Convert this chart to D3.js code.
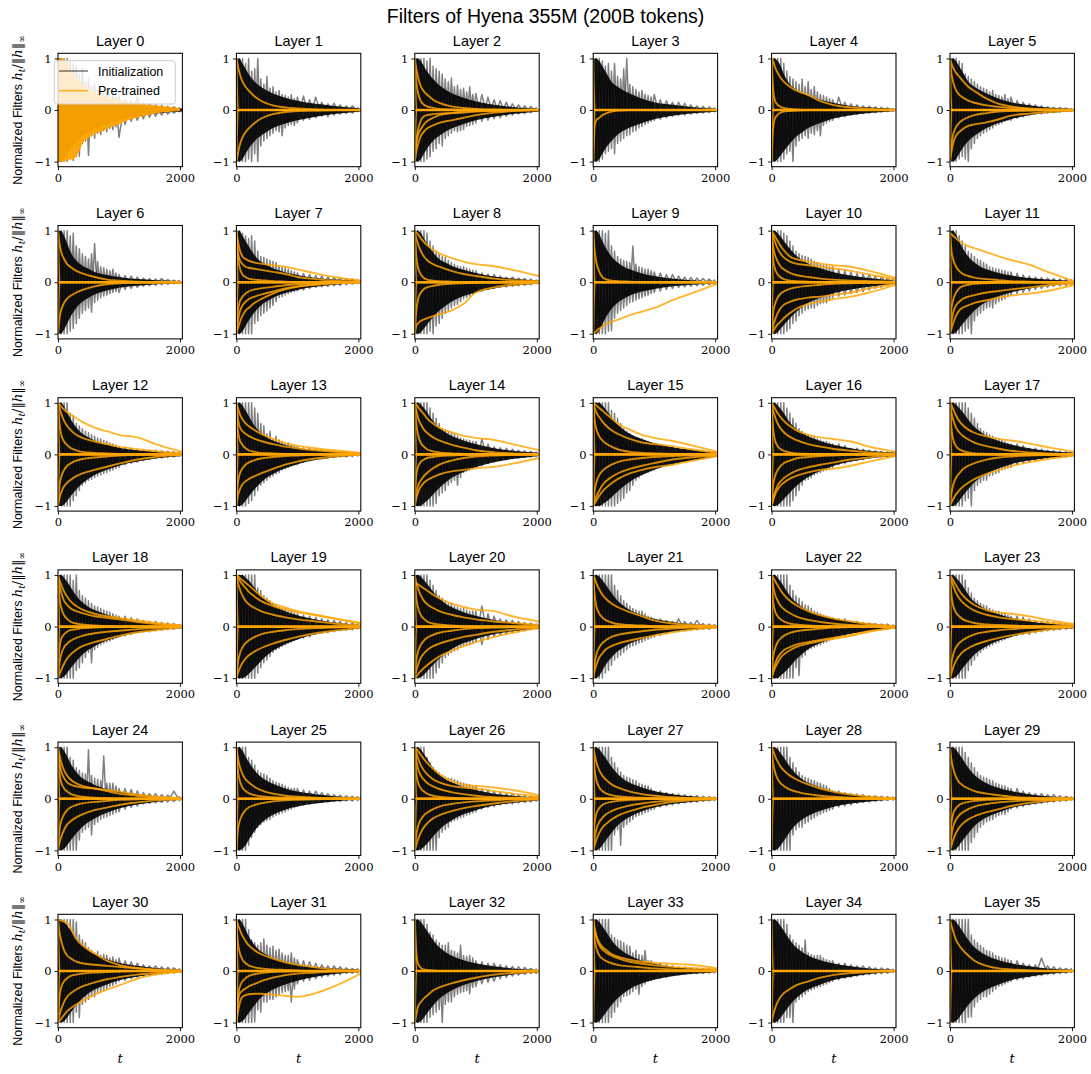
<!DOCTYPE html>
<html><head><meta charset="utf-8">
<script src="https://cdn.jsdelivr.net/npm/d3@7/dist/d3.min.js"></script>
<style>body{margin:0;background:#fff}svg{display:block}</style>
</head><body>
<svg id="chart" width="1091" height="1074"></svg>
<script>
const chartTitle = "Filters of Hyena 355M (200B tokens)";
const layerNames = d3.range(36).map(i => "Layer " + i);
const xTicks = [0, 2000];
const yTicks = [-1, 0, 1];
const legendLabels = ["Initialization", "Pre-trained"];

const T_BLACK = [0,50,100,150,200,250,300,350,400,450,500,550,600,650,700,750,800,850,900,950,1000,1100,1200,1300,1400,1500,1600,1700,1800,1900,2000];
const T_CORE = [0,50,100,150,200,300,400,500,600,800,1000,1300,1600,2040];
const T_ORANGE = [0,25,50,100,150,200,300,400,600,800,1000,1300,1600,2040];

// outer (spiky) envelope of the initialization filters, sampled at T_BLACK
const blackUpper = [
[1,1,1,1,.95,.9,.85,.7,.8,.55,.6,.45,.5,.38,.42,.33,.35,.28,.3,.25,.27,.2,.18,.25,.14,.12,.1,.09,.07,.06,.05],
[1,1,1,.9,1,.75,.8,1,.6,.5,.65,.42,.45,.35,.38,.3,.28,.25,.3,.22,.25,.27,.2,.25,.15,.12,.13,.1,.08,.08,.05],
[1,1,1,1,.95,1,.85,.8,.75,.7,.6,.55,.62,.45,.48,.4,.42,.35,.45,.3,.32,.3,.25,.2,.18,.15,.12,.1,.08,.07,.05],
[1,1,1,.95,.85,.9,.75,.9,.65,.6,.8,1,.5,.45,.4,.35,.38,.3,.28,.25,.3,.2,.18,.15,.15,.13,.1,.08,.07,.06,.05],
[1,1,1,1,.9,.75,.65,.6,.55,.5,.6,.45,.55,.4,.45,.35,.3,.28,.25,.22,.2,.25,.15,.12,.1,.08,.07,.06,.05,.04,.03],
[1,1,1,.95,.9,.7,.65,.6,.55,.5,.45,.42,.4,.35,.38,.3,.28,.25,.3,.22,.25,.18,.15,.12,.1,.08,.06,.05,.05,.04,.03],
[1,1,1,1,.9,.95,.7,.65,.55,.5,.45,.55,.75,.4,.3,.28,.25,.22,.25,.18,.15,.13,.12,.1,.08,.07,.06,.07,.05,.04,.04],
[1,1,.95,.9,.85,.9,.8,.6,.5,.48,.45,.42,.4,.38,.32,.3,.28,.25,.22,.2,.18,.17,.15,.13,.12,.1,.09,.08,.07,.06,.05],
[1,1,1,1,.95,.8,.7,.6,.55,.5,.48,.42,.38,.35,.32,.3,.3,.27,.25,.23,.22,.18,.16,.15,.12,.1,.1,.08,.07,.06,.05],
[1,1,1,1,.95,1,.7,.6,.5,.45,.42,.4,.38,.7,.35,.3,.28,.25,.25,.22,.2,.18,.15,.15,.12,.1,.09,.08,.07,.06,.05],
[1,1,1,1,.95,.9,.8,.7,.6,.55,.52,.5,.48,.45,.4,.38,.35,.33,.32,.3,.3,.25,.22,.2,.17,.15,.15,.12,.1,.08,.07],
[1,1,1,.9,.8,.7,.6,.55,.5,.45,.42,.38,.35,.3,.28,.26,.25,.23,.22,.2,.2,.17,.14,.12,.1,.09,.08,.07,.06,.05,.05],
[1,1,1,1,.8,.75,.6,.55,.5,.45,.42,.38,.35,.32,.3,.27,.25,.22,.2,.18,.15,.14,.12,.1,.09,.08,.08,.07,.06,.05,.05],
[1,1,1,1,1,1,.9,.8,.6,.55,.4,.45,.3,.35,.28,.25,.2,.22,.18,.16,.15,.13,.12,.1,.08,.07,.06,.05,.05,.04,.04],
[1,1,1,1,1,.9,.8,.7,.6,.5,.48,.45,.42,.4,.35,.32,.3,.28,.27,.25,.25,.3,.2,.15,.13,.12,.1,.08,.07,.06,.05],
[1,1,1,1,1,1,.85,.8,.7,.6,.5,.45,.4,.35,.33,.3,.3,.27,.25,.22,.2,.18,.16,.15,.12,.1,.1,.08,.07,.06,.05],
[1,1,1,1,1,.9,.8,.7,.6,.5,.45,.4,.38,.35,.35,.3,.28,.25,.25,.22,.2,.2,.17,.12,.12,.1,.08,.07,.06,.05,.05],
[1,1,1,1,1,1,.9,.8,.7,.6,.5,.45,.42,.38,.35,.32,.3,.28,.25,.22,.2,.2,.17,.12,.12,.1,.08,.07,.06,.05,.05],
[1,1,1,1,1,.9,1,.7,.6,.55,.5,.45,.4,.38,.35,.32,.3,.28,.25,.22,.2,.2,.17,.15,.12,.1,.1,.08,.07,.06,.05],
[1,1,1,1,1,1,1,.75,.7,.6,.55,.5,.45,.42,.38,.35,.35,.3,.3,.27,.25,.22,.2,.18,.15,.13,.12,.1,.08,.07,.06],
[1,1,1,1,1,.9,.8,.7,.6,.55,.5,.45,.45,.4,.38,.35,.35,.32,.3,.3,.3,.4,.25,.2,.15,.13,.12,.1,.08,.07,.06],
[1,1,1,1,1,1,1,.8,.7,.6,.5,.45,.4,.35,.32,.3,.3,.25,.2,.18,.15,.15,.12,.1,.15,.1,.08,.12,.06,.05,.05],
[1,1,1,1,1,1,.8,.7,.6,.55,.48,.42,.4,.35,.3,.28,.25,.22,.2,.18,.17,.15,.15,.1,.1,.08,.07,.06,.05,.05,.04],
[1,1,1,1,1,.9,.75,.65,.55,.5,.45,.42,.4,.35,.32,.3,.3,.27,.25,.22,.2,.2,.18,.15,.12,.1,.1,.08,.07,.06,.05],
[1,1,1,1,.8,.75,.6,.55,.5,.48,.95,.45,.4,.38,.35,.83,.3,.3,.3,.25,.2,.2,.18,.15,.12,.1,.1,.08,.07,.15,.05],
[1,1,1,1,.8,.75,.65,.55,.5,.48,.45,.4,.35,.32,.3,.28,.25,.22,.2,.2,.2,.17,.15,.15,.12,.1,.08,.07,.06,.05,.05],
[1,1,1,1,.8,.7,.6,.55,.5,.45,.42,.4,.4,.37,.35,.32,.3,.28,.27,.25,.25,.2,.17,.15,.12,.1,.1,.08,.07,.06,.05],
[1,1,1,1,1,1,.8,.7,.6,.52,.45,.42,.4,.37,.35,.3,.28,.26,.25,.2,.15,.15,.12,.1,.09,.08,.06,.06,.05,.04,.04],
[1,1,1,1,1,1,.8,.7,.6,.52,.45,.42,.4,.37,.35,.32,.3,.27,.25,.2,.15,.15,.12,.1,.09,.08,.06,.06,.05,.04,.04],
[1,1,1,1,1,.9,.8,.7,.6,.52,.45,.42,.4,.37,.35,.3,.28,.26,.25,.22,.2,.2,.15,.12,.1,.1,.08,.08,.06,.05,.04],
[1,1,1,1,1,1,.95,.7,.6,.55,.45,.4,.35,.38,.3,.32,.3,.25,.27,.22,.25,.2,.18,.15,.12,.1,.1,.08,.07,.06,.05],
[1,1,1,1,.8,.6,.55,.5,.55,.62,.5,.45,.48,.4,.42,.35,.3,.3,.35,.25,.22,.2,.18,.15,.12,.1,.1,.08,.06,.05,.05],
[1,1,1,1,.9,.75,.7,.6,.55,.5,.5,.55,.4,.38,.35,.5,.3,.28,.3,.25,.2,.18,.15,.15,.12,.1,.09,.08,.07,.05,.04],
[1,1,1,1,1,1,.7,.65,.6,.58,.55,.5,.48,.35,.4,.32,.3,.4,.2,.2,.15,.15,.12,.1,.08,.07,.06,.05,.05,.04,.04],
[1,1,1,1,1,.9,.7,.6,.55,.5,.45,.6,.35,.32,.3,.3,.3,.25,.22,.2,.2,.15,.15,.12,.1,.1,.08,.06,.06,.05,.04],
[1,1,1,1,1,1,1,.7,.6,.55,.5,.45,.4,.38,.35,.3,.28,.25,.25,.22,.2,.2,.15,.12,.12,.25,.1,.08,.06,.05,.05]
];
const blackLower = [
[-1,-1,-1,-1,-.95,-.98,-.9,-.9,-.65,-.6,-.88,-.5,-.55,-.45,-.48,-.4,-.42,-.36,-.38,-.33,-.53,-.28,-.22,-.2,-.17,-.14,-.12,-.1,-.08,-.06,-.04],
[-1,-1,-1,-1,-.95,-1,-.85,-1,-.7,-.6,-.55,-.5,-.45,-.4,-.42,-.5,-.35,-.3,-.28,-.3,-.25,-.2,-.18,-.15,-.12,-.13,-.1,-.08,-.07,-.06,-.04],
[-1,-1,-1,-1,-.95,-.9,-.8,-.75,-.65,-.7,-.55,-.5,-.45,-.4,-.42,-.4,-.38,-.32,-.3,-.28,-.25,-.22,-.2,-.17,-.15,-.12,-.1,-.08,-.07,-.05,-.04],
[-1,-1,-1,-.95,-.85,-.8,-.75,-.85,-.65,-.6,-.55,-.5,-.48,-.42,-.4,-.35,-.32,-.28,-.25,-.22,-.2,-.18,-.15,-.12,-.1,-.1,-.08,-.07,-.06,-.05,-.04],
[-1,-1,-1,-1,-.95,-.85,-.8,-1,-.7,-.6,-.55,-.5,-.55,-.45,-.48,-.4,-.5,-.3,-.25,-.22,-.2,-.15,-.13,-.1,-.08,-.07,-.06,-.05,-.04,-.03,-.03],
[-1,-1,-1,-.95,-.9,-.95,-1,-.75,-.65,-.55,-.5,-.45,-.42,-.38,-.35,-.3,-.28,-.25,-.22,-.2,-.2,-.16,-.13,-.1,-.08,-.07,-.06,-.05,-.04,-.03,-.03],
[-1,-1,-1,-1,-.95,-.9,-.8,-.7,-.6,-.55,-.5,-.58,-.4,-.35,-.3,-.27,-.25,-.22,-.2,-.18,-.2,-.14,-.12,-.1,-.08,-.07,-.06,-.05,-.04,-.03,-.03],
[-1,-1,-1,-1,-1,-1,-.8,-.75,-.65,-.6,-.56,-.5,-.45,-.38,-.3,-.28,-.25,-.22,-.2,-.18,-.17,-.15,-.12,-.1,-.09,-.08,-.07,-.06,-.05,-.04,-.03],
[-1,-1,-1,-1,-1,-.95,-1,-.85,-.8,-.7,-.6,-.55,-.5,-.45,-.43,-.38,-.32,-.3,-.27,-.23,-.2,-.17,-.14,-.12,-.1,-.09,-.08,-.07,-.06,-.05,-.04],
[-1,-1,-1,-1,-1,-.95,-.94,-.7,-.6,-.55,-.5,-.45,-.4,-.38,-.35,-.32,-.3,-.27,-.25,-.22,-.2,-.17,-.14,-.12,-.1,-.09,-.08,-.07,-.06,-.05,-.04],
[-1,-1,-1,-1,-1,-.95,-.9,-.8,-.75,-.65,-.6,-.55,-.52,-.5,-.5,-.45,-.42,-.4,-.4,-.35,-.3,-.27,-.25,-.22,-.2,-.18,-.15,-.12,-.1,-.07,-.05],
[-1,-1,-1,-1,-1,-.95,-.9,-1,-.75,-.65,-.6,-.55,-.5,-.48,-.5,-.42,-.38,-.35,-.32,-.28,-.25,-.22,-.2,-.17,-.14,-.12,-.1,-.08,-.07,-.06,-.05],
[-1,-1,-1,-1,-1,-.9,-.8,-.7,-.6,-.55,-.5,-.48,-.45,-.42,-.4,-.37,-.35,-.32,-.3,-.27,-.25,-.2,-.17,-.15,-.12,-.1,-.08,-.07,-.06,-.05,-.04],
[-1,-1,-1,-1,-.95,-.9,-.8,-.7,-.6,-.55,-.5,-.45,-.42,-.38,-.35,-.3,-.28,-.25,-.22,-.2,-.2,-.15,-.12,-.1,-.08,-.07,-.06,-.05,-.05,-.04,-.04],
[-1,-1,-1,-1,-1,-1,-1,-.95,-.8,-.75,-.7,-.6,-.55,-.5,-.6,-.45,-.35,-.32,-.3,-.27,-.25,-.22,-.18,-.15,-.12,-.1,-.08,-.07,-.06,-.05,-.04],
[-1,-1,-1,-1,-1,-1,-1,-1,-.95,-.9,-.85,-.75,-.7,-.6,-.5,-.45,-.4,-.37,-.35,-.32,-.3,-.25,-.22,-.2,-.16,-.14,-.1,-.09,-.08,-.06,-.05],
[-1,-1,-1,-1,-1,-1,-1,-.9,-.8,-.7,-.6,-.5,-.48,-.45,-.4,-.37,-.35,-.32,-.3,-.27,-.25,-.2,-.18,-.14,-.12,-.1,-.08,-.06,-.05,-.04,-.04],
[-1,-1,-1,-1,-1,-.9,-.85,-1,-.7,-.6,-.55,-.5,-.5,-.42,-.4,-.37,-.35,-.3,-.28,-.26,-.25,-.2,-.17,-.15,-.12,-.1,-.08,-.07,-.06,-.05,-.04],
[-1,-1,-1,-1,-1,-1,-.85,-.8,-.7,-.6,-.5,-.7,-.45,-.4,-.35,-.32,-.3,-.28,-.25,-.22,-.2,-.18,-.15,-.12,-.1,-.1,-.08,-.07,-.06,-.05,-.04],
[-1,-1,-1,-1,-1,-1,-1,-.9,-.8,-.7,-.65,-.58,-.5,-.45,-.42,-.38,-.35,-.32,-.3,-.27,-.25,-.22,-.2,-.15,-.13,-.12,-.1,-.08,-.07,-.06,-.05],
[-1,-1,-1,-1,-1,-1,-1,-.9,-.8,-.7,-.6,-.55,-.5,-.47,-.45,-.4,-.37,-.35,-.35,-.32,-.3,-.35,-.25,-.2,-.17,-.15,-.12,-.1,-.08,-.06,-.05],
[-1,-1,-1,-1,-.9,-.85,-.75,-.65,-.6,-.55,-.5,-.45,-.4,-.37,-.35,-.32,-.3,-.27,-.25,-.22,-.2,-.17,-.14,-.1,-.09,-.08,-.07,-.06,-.05,-.05,-.04],
[-1,-1,-1,-1,-1,-1,-1,-1,-.8,-.95,-.6,-.55,-.45,-.42,-.4,-.37,-.35,-.32,-.3,-.27,-.25,-.2,-.17,-.15,-.12,-.1,-.08,-.07,-.06,-.05,-.04],
[-1,-1,-1,-1,-1,-1,-.85,-.75,-.65,-.57,-.5,-.45,-.42,-.38,-.35,-.32,-.3,-.27,-.25,-.22,-.2,-.17,-.15,-.15,-.12,-.1,-.08,-.07,-.06,-.05,-.04],
[-1,-1,-1,-1,-1,-1,-1,-.8,-.65,-.6,-.55,-.7,-.5,-.45,-.4,-.37,-.35,-.32,-.3,-.27,-.25,-.2,-.17,-.14,-.1,-.09,-.08,-.07,-.06,-.05,-.05],
[-1,-1,-1,-1,-.9,-.75,-.65,-.55,-.5,-.45,-.42,-.4,-.35,-.32,-.3,-.27,-.25,-.22,-.2,-.17,-.15,-.12,-.1,-.08,-.07,-.06,-.05,-.05,-.04,-.04,-.04],
[-1,-1,-1,-1,-1,-1,-1,-1,-.75,-.65,-.6,-.55,-.45,-.42,-.4,-.37,-.35,-.32,-.3,-.27,-.25,-.2,-.17,-.15,-.12,-.1,-.1,-.08,-.07,-.06,-.05],
[-1,-1,-1,-1,-1,-1,-1,-.7,-.6,-.9,-.55,-.5,-.45,-.4,-.35,-.32,-.3,-.27,-.25,-.22,-.2,-.16,-.14,-.12,-.1,-.08,-.07,-.06,-.05,-.04,-.04],
[-1,-1,-1,-1,-1,-1,-1,-.7,-.6,-.55,-.55,-.48,-.45,-.4,-.37,-.33,-.3,-.27,-.25,-.22,-.2,-.16,-.14,-.12,-.09,-.07,-.06,-.05,-.04,-.03,-.03],
[-1,-1,-1,-1,-1,-1,-1,-.85,-.75,-.65,-.55,-.5,-.45,-.42,-.4,-.35,-.32,-.3,-.3,-.25,-.2,-.18,-.15,-.12,-.1,-.09,-.07,-.06,-.05,-.04,-.03],
[-1,-1,-1,-1,-1,-1,-.8,-.9,-.65,-.6,-.55,-.5,-.5,-.42,-.4,-.37,-.35,-.3,-.28,-.25,-.2,-.18,-.15,-.12,-.1,-.09,-.07,-.06,-.05,-.04,-.03],
[-1,-1,-1,-1,-1,-1,-.99,-.75,-.8,-.6,-.6,-.55,-.55,-.5,-.45,-.42,-.4,-.38,-.6,-.35,-.25,-.2,-.18,-.15,-.12,-.1,-.08,-.07,-.05,-.04,-.04],
[-1,-1,-1,-1,-1,-.9,-.85,-.8,-.75,-1,-.65,-.6,-.6,-.5,-.45,-.42,-.4,-.38,-.44,-.32,-.3,-.25,-.22,-.2,-.15,-.12,-.1,-.08,-.06,-.05,-.05],
[-1,-1,-1,-1,-1,-1,-.9,-.8,-.7,-.6,-.5,-.48,-.45,-.4,-.35,-.45,-.3,-.25,-.2,-.18,-.15,-.14,-.12,-.08,-.07,-.06,-.05,-.05,-.05,-.04,-.04],
[-1,-1,-1,-1,-1,-.9,-.9,-1,-.6,-.55,-.5,-.45,-.4,-.37,-.35,-.32,-.3,-.27,-.25,-.22,-.2,-.17,-.14,-.12,-.1,-.08,-.07,-.06,-.05,-.04,-.03],
[-1,-1,-1,-1,-1,-1,-.9,-.89,-.7,-.6,-.55,-.5,-.5,-.45,-.4,-.35,-.3,-.28,-.25,-.22,-.2,-.17,-.15,-.12,-.1,-.09,-.07,-.06,-.05,-.04,-.03]
];
// dense core of the initialization filters, sampled at T_CORE
const coreUpper = [
[1,1,.95,.8,.65,.45,.35,.3,.25,.2,.15,.1,.07,.03],
[1,1,.9,.8,.7,.55,.45,.38,.32,.24,.18,.12,.08,.03],
[1,1,.95,.85,.75,.6,.48,.4,.33,.24,.17,.1,.06,.02],
[1,1,.95,.85,.75,.55,.45,.38,.32,.22,.15,.1,.06,.02],
[1,1,.95,.85,.7,.5,.4,.33,.28,.2,.14,.08,.05,.02],
[1,1,.95,.85,.75,.55,.45,.38,.32,.22,.15,.09,.05,.02],
[1,1,.9,.75,.6,.42,.32,.26,.2,.14,.1,.06,.04,.02],
[1,1,.9,.8,.7,.52,.4,.33,.27,.19,.14,.08,.05,.02],
[1,1,.95,.85,.75,.58,.45,.38,.32,.24,.18,.11,.07,.03],
[1,1,.93,.8,.68,.5,.38,.3,.25,.17,.12,.07,.04,.02],
[1,1,.95,.88,.8,.65,.52,.43,.36,.27,.2,.13,.08,.03],
[1,1,.92,.8,.68,.5,.38,.3,.25,.18,.13,.08,.05,.02],
[1,1,.93,.82,.7,.52,.4,.33,.27,.19,.13,.08,.05,.02],
[1,1,.95,.85,.75,.55,.42,.33,.27,.18,.13,.08,.05,.02],
[1,1,.97,.9,.82,.65,.52,.43,.36,.27,.2,.12,.07,.03],
[1,1,1,.95,.88,.72,.58,.48,.4,.3,.22,.14,.09,.03],
[1,1,.95,.88,.8,.62,.5,.42,.35,.26,.19,.12,.07,.03],
[1,1,.97,.9,.83,.67,.53,.44,.36,.26,.19,.12,.07,.03],
[1,1,.95,.87,.78,.6,.47,.38,.32,.23,.17,.1,.06,.02],
[1,1,1,.95,.9,.75,.6,.5,.42,.3,.22,.14,.08,.03],
[1,1,.97,.9,.83,.68,.55,.45,.38,.28,.21,.13,.08,.03],
[1,1,.97,.9,.82,.65,.5,.4,.32,.22,.15,.09,.05,.02],
[1,1,.95,.87,.78,.6,.47,.38,.31,.22,.16,.1,.06,.02],
[1,1,.95,.88,.8,.62,.48,.4,.33,.24,.17,.1,.06,.02],
[1,1,.93,.82,.7,.52,.4,.33,.27,.19,.14,.09,.05,.02],
[1,1,.93,.82,.72,.55,.43,.35,.29,.2,.14,.09,.05,.02],
[1,1,.95,.87,.78,.6,.47,.38,.32,.23,.17,.1,.06,.02],
[1,1,.96,.88,.8,.62,.48,.38,.31,.22,.15,.09,.05,.02],
[1,1,.96,.88,.8,.62,.48,.38,.31,.22,.15,.09,.05,.02],
[1,1,.95,.87,.78,.6,.46,.37,.3,.21,.15,.09,.05,.02],
[1,1,.96,.88,.8,.63,.5,.4,.33,.23,.16,.1,.06,.02],
[1,1,.92,.8,.68,.5,.38,.31,.25,.18,.13,.08,.05,.02],
[1,1,.95,.87,.78,.6,.46,.37,.3,.21,.15,.09,.05,.02],
[1,1,.95,.87,.78,.6,.46,.37,.3,.2,.14,.08,.05,.02],
[1,1,.95,.87,.78,.6,.46,.37,.3,.21,.15,.09,.05,.02],
[1,1,.95,.87,.78,.6,.46,.37,.3,.21,.15,.09,.05,.02]
];
const coreLower = [
[-1,-1,-.95,-.85,-.75,-.6,-.5,-.42,-.36,-.28,-.2,-.12,-.07,-.03],
[-1,-1,-.95,-.85,-.75,-.6,-.5,-.42,-.35,-.26,-.2,-.13,-.08,-.03],
[-1,-1,-.95,-.85,-.75,-.6,-.5,-.42,-.36,-.27,-.2,-.13,-.08,-.03],
[-1,-1,-.95,-.85,-.75,-.6,-.48,-.4,-.34,-.25,-.18,-.11,-.07,-.03],
[-1,-1,-.95,-.88,-.8,-.65,-.52,-.43,-.35,-.25,-.17,-.1,-.06,-.02],
[-1,-1,-.95,-.85,-.75,-.6,-.5,-.42,-.35,-.25,-.18,-.1,-.06,-.02],
[-1,-1,-.92,-.8,-.68,-.5,-.38,-.3,-.24,-.16,-.11,-.07,-.04,-.02],
[-1,-1,-.95,-.85,-.75,-.58,-.45,-.37,-.3,-.21,-.15,-.09,-.05,-.02],
[-1,-1,-.97,-.9,-.82,-.68,-.55,-.46,-.38,-.27,-.2,-.12,-.07,-.03],
[-1,-1,-.93,-.82,-.7,-.52,-.4,-.32,-.26,-.18,-.13,-.08,-.05,-.02],
[-1,-1,-.97,-.9,-.83,-.7,-.58,-.48,-.4,-.3,-.22,-.14,-.09,-.03],
[-1,-1,-.97,-.9,-.82,-.68,-.55,-.45,-.38,-.27,-.2,-.12,-.07,-.03],
[-1,-1,-.97,-.9,-.82,-.68,-.56,-.47,-.4,-.3,-.22,-.14,-.08,-.03],
[-1,-1,-.97,-.9,-.82,-.67,-.55,-.45,-.38,-.27,-.19,-.11,-.06,-.02],
[-1,-1,-1,-.95,-.9,-.78,-.65,-.55,-.46,-.34,-.25,-.15,-.09,-.03],
[-1,-1,-1,-.97,-.93,-.83,-.72,-.62,-.53,-.4,-.3,-.19,-.12,-.04],
[-1,-1,-.98,-.93,-.87,-.74,-.62,-.52,-.44,-.32,-.23,-.14,-.08,-.03],
[-1,-1,-.97,-.9,-.82,-.67,-.54,-.45,-.38,-.27,-.19,-.12,-.07,-.03],
[-1,-1,-.97,-.9,-.82,-.67,-.54,-.45,-.38,-.27,-.2,-.12,-.07,-.03],
[-1,-1,-1,-.97,-.92,-.8,-.67,-.56,-.47,-.34,-.25,-.15,-.09,-.03],
[-1,-1,-.98,-.93,-.87,-.74,-.62,-.52,-.44,-.32,-.24,-.15,-.09,-.03],
[-1,-1,-.95,-.85,-.75,-.6,-.48,-.4,-.33,-.24,-.17,-.1,-.06,-.02],
[-1,-1,-1,-.95,-.9,-.78,-.64,-.53,-.44,-.32,-.23,-.14,-.08,-.03],
[-1,-1,-.97,-.9,-.82,-.67,-.54,-.45,-.38,-.27,-.2,-.12,-.07,-.03],
[-1,-1,-.97,-.9,-.82,-.67,-.54,-.45,-.38,-.27,-.19,-.11,-.06,-.02],
[-1,-1,-.97,-.9,-.8,-.62,-.48,-.38,-.31,-.21,-.15,-.09,-.05,-.02],
[-1,-1,-.98,-.93,-.87,-.73,-.6,-.5,-.42,-.3,-.22,-.13,-.08,-.03],
[-1,-1,-.97,-.9,-.82,-.66,-.52,-.42,-.35,-.24,-.17,-.1,-.06,-.02],
[-1,-1,-.97,-.9,-.82,-.64,-.5,-.4,-.33,-.23,-.16,-.09,-.05,-.02],
[-1,-1,-.97,-.9,-.82,-.67,-.53,-.43,-.36,-.26,-.18,-.11,-.06,-.02],
[-1,-1,-.97,-.9,-.82,-.66,-.53,-.43,-.36,-.26,-.18,-.11,-.06,-.02],
[-1,-1,-.97,-.9,-.82,-.66,-.52,-.43,-.36,-.26,-.19,-.11,-.06,-.02],
[-1,-1,-.97,-.9,-.82,-.67,-.54,-.45,-.38,-.27,-.2,-.12,-.07,-.03],
[-1,-1,-.97,-.9,-.82,-.66,-.53,-.43,-.35,-.24,-.17,-.1,-.06,-.02],
[-1,-1,-.97,-.9,-.82,-.66,-.53,-.43,-.36,-.26,-.18,-.11,-.06,-.02],
[-1,-1,-.97,-.9,-.82,-.66,-.53,-.43,-.36,-.26,-.18,-.11,-.06,-.02]
];

// Layer 0 pre-trained filters stay noisy: envelope sampled at T_BLACK
const orangeMassUpper0 = [1,1,1,.9,.78,.7,.62,.56,.5,.45,.42,.38,.36,.33,.3,.27,.25,.23,.22,.2,.2,.17,.15,.14,.12,.1,.09,.08,.07,.05,.04];
const orangeMassLower0 = [-1,-1,-1,-.98,-.95,-.97,-.9,-.8,-.65,-.58,-.55,-.5,-.47,-.44,-.42,-.4,-.37,-.34,-.32,-.3,-.28,-.22,-.18,-.15,-.12,-.09,-.07,-.05,-.04,-.03,-.02];

// smooth pre-trained filters, sampled at T_ORANGE
const ZERO = [0,0,0,0,0,0,0,0,0,0,0,0,0,0];
const SPIKE_POS = [1,0,0,0,0,0,0,0,0,0,0,0,0,0];
const SPIKE_NEG = [-1,0,0,0,0,0,0,0,0,0,0,0,0,0];
const orangeCurves = [
[],
[[1,.85,.72,.55,.45,.38,.26,.18,.09,.05,.03,.01,0,0],[-1,-.85,-.7,-.53,-.43,-.36,-.25,-.17,-.08,-.04,-.02,-.01,0,0],ZERO,SPIKE_POS,SPIKE_NEG],
[[1,.8,.65,.46,.36,.3,.2,.14,.07,.04,.02,.01,0,0],[1,.55,.35,.17,.1,.07,.04,.02,.01,0,0,0,0,0],[-1,-.8,-.68,-.5,-.42,-.36,-.3,-.25,-.2,-.15,-.1,-.05,-.02,0],[-1,-.65,-.5,-.37,-.28,-.22,-.15,-.1,-.06,-.03,-.02,-.01,0,0],[-.9,-.6,-.4,-.2,-.12,-.1,-.08,-.07,-.06,-.05,-.03,-.02,-.01,0],ZERO,SPIKE_POS,SPIKE_NEG],
[[-1,-.3,-.2,-.15,-.1,-.07,-.03,-.01,0,0,0,0,0,0],ZERO,SPIKE_POS,SPIKE_NEG],
[[1,.95,.85,.72,.62,.55,.45,.38,.29,.17,.1,.05,.02,0],[1,.4,.2,.1,.06,.04,.02,.01,0,0,0,0,0,0],[-1,-.35,-.18,-.09,-.05,-.03,-.02,-.01,0,0,0,0,0,0],ZERO,SPIKE_POS,SPIKE_NEG],
[[1,.9,.82,.72,.65,.58,.45,.37,.22,.12,.07,.03,.01,0],[1,.7,.55,.38,.3,.25,.18,.14,.09,.06,.04,.02,.01,0],[-1,-.8,-.65,-.5,-.43,-.38,-.31,-.28,-.24,-.18,-.11,-.07,-.04,-.01],[-1,-.65,-.48,-.33,-.25,-.2,-.14,-.1,-.06,-.03,-.02,-.01,0,0],ZERO,SPIKE_POS,SPIKE_NEG],
[[1,.75,.6,.45,.35,.3,.22,.17,.1,.05,.03,.01,0,0],[-1,-.7,-.55,-.4,-.32,-.27,-.2,-.15,-.08,-.04,-.02,-.01,0,0],ZERO,SPIKE_POS,SPIKE_NEG],
[[1,.8,.65,.5,.45,.42,.38,.36,.33,.3,.25,.17,.1,.03],[1,.6,.45,.35,.3,.28,.26,.24,.2,.16,.1,.06,.03,.01],[.9,.5,.3,.15,.1,.07,.05,.04,.02,.01,0,0,0,0],[-1,-.75,-.6,-.45,-.38,-.33,-.28,-.24,-.18,-.12,-.08,-.04,-.02,0],[-.9,-.55,-.4,-.28,-.22,-.18,-.14,-.12,-.09,-.06,-.04,-.02,-.01,0],[-1,-.9,-.8,-.65,-.55,-.5,-.4,-.33,-.22,-.14,-.09,-.05,-.02,0],ZERO,SPIKE_POS,SPIKE_NEG],
[[1,.97,.93,.85,.78,.72,.63,.56,.47,.4,.35,.31,.24,.12],[1,.85,.75,.6,.5,.43,.35,.3,.22,.16,.12,.07,.04,.02],[1,.5,.3,.15,.08,.05,.03,.02,.01,0,0,0,0,0],[-1,-.85,-.8,-.75,-.72,-.7,-.66,-.62,-.55,-.42,-.2,-.1,-.05,-.01],[-1,-.55,-.35,-.2,-.13,-.1,-.07,-.05,-.03,-.02,-.01,0,0,0],ZERO,SPIKE_POS,SPIKE_NEG],
[[1,.6,.4,.2,.1,.06,.03,.02,.01,0,0,0,0,0],[-1,-.98,-.95,-.9,-.86,-.82,-.77,-.73,-.64,-.57,-.5,-.35,-.22,-.03],ZERO,SPIKE_POS,SPIKE_NEG],
[[1,.95,.9,.8,.7,.62,.5,.45,.4,.36,.33,.3,.22,.08],[1,.9,.8,.65,.55,.48,.4,.36,.33,.3,.27,.22,.15,.05],[1,.7,.55,.4,.3,.25,.18,.14,.1,.07,.05,.03,.02,.01],[1,.45,.28,.15,.09,.06,.03,.02,.01,0,0,0,0,0],[-1,-.95,-.9,-.82,-.76,-.7,-.6,-.52,-.42,-.37,-.33,-.28,-.2,-.05],[-1,-.85,-.75,-.6,-.5,-.44,-.38,-.34,-.3,-.28,-.25,-.2,-.12,-.03],[-1,-.6,-.45,-.3,-.22,-.18,-.13,-.1,-.07,-.05,-.03,-.02,-.01,0],ZERO,SPIKE_POS,SPIKE_NEG],
[[.95,.93,.9,.85,.8,.76,.7,.66,.58,.5,.43,.34,.2,.02],[1,.6,.45,.3,.22,.17,.12,.09,.06,.04,.02,.01,0,0],[-1,-.9,-.8,-.65,-.55,-.5,-.45,-.4,-.35,-.3,-.26,-.22,-.17,-.05],[-1,-.75,-.6,-.45,-.38,-.33,-.28,-.25,-.2,-.17,-.14,-.1,-.06,-.02],[-.8,-.5,-.35,-.2,-.12,-.08,-.05,-.03,-.02,-.01,0,0,0,0],ZERO,SPIKE_POS,SPIKE_NEG],
[[1,.97,.93,.87,.82,.78,.7,.63,.52,.45,.38,.33,.2,.05],[1,.9,.8,.65,.55,.48,.38,.32,.25,.2,.15,.1,.06,.02],[1,.6,.4,.25,.18,.13,.08,.05,.03,.02,.01,0,0,0],[-1,-.85,-.75,-.62,-.55,-.5,-.42,-.37,-.3,-.24,-.18,-.1,-.05,-.01],[-1,-.6,-.45,-.3,-.22,-.18,-.12,-.09,-.06,-.04,-.02,-.01,0,0],ZERO,SPIKE_POS,SPIKE_NEG],
[[1,.9,.8,.68,.6,.55,.47,.4,.3,.22,.17,.12,.08,.03],[1,.7,.55,.45,.4,.36,.3,.26,.2,.15,.12,.08,.05,.02],[.8,.45,.3,.18,.12,.08,.05,.03,.02,.01,0,0,0,0],[-1,-.8,-.7,-.58,-.52,-.48,-.42,-.37,-.28,-.2,-.14,-.08,-.04,-.01],[-.9,-.55,-.4,-.27,-.2,-.16,-.11,-.08,-.05,-.03,-.02,-.01,0,0],ZERO,SPIKE_POS,SPIKE_NEG],
[[1,.97,.92,.85,.78,.7,.6,.52,.43,.36,.32,.28,.2,.08],[1,.85,.72,.58,.48,.42,.33,.27,.19,.13,.08,.04,.02,.01],[1,.6,.4,.22,.15,.1,.06,.04,.02,.01,0,0,0,0],[-1,-.85,-.75,-.62,-.55,-.5,-.44,-.39,-.33,-.3,-.27,-.24,-.18,-.07],[-1,-.75,-.62,-.5,-.42,-.36,-.27,-.2,-.12,-.07,-.04,-.02,-.01,0],[-.8,-.4,-.25,-.14,-.1,-.07,-.05,-.03,-.02,-.01,0,0,0,0],ZERO,SPIKE_POS,SPIKE_NEG],
[[1,.98,.95,.9,.85,.8,.7,.6,.48,.38,.32,.26,.18,.05],[1,.9,.82,.72,.64,.57,.47,.4,.3,.23,.2,.16,.1,.03],[1,.65,.5,.35,.27,.22,.15,.1,.05,.03,.02,.01,0,0],[-1,-.95,-.9,-.8,-.72,-.66,-.56,-.48,-.37,-.3,-.25,-.2,-.13,-.03],[-1,-.7,-.55,-.4,-.32,-.27,-.2,-.15,-.1,-.07,-.05,-.03,-.02,0],[-1,-.9,-.82,-.7,-.6,-.53,-.44,-.37,-.28,-.22,-.17,-.1,-.06,-.02],ZERO,SPIKE_POS,SPIKE_NEG],
[[1,.95,.9,.8,.72,.65,.55,.47,.38,.33,.3,.25,.15,.05],[1,.85,.75,.6,.5,.43,.34,.28,.2,.15,.11,.07,.04,.01],[1,.5,.3,.16,.1,.07,.04,.02,.01,0,0,0,0,0],[-1,-.9,-.8,-.68,-.6,-.55,-.47,-.42,-.35,-.3,-.28,-.22,-.14,-.03],[-1,-.85,-.75,-.6,-.52,-.46,-.38,-.32,-.25,-.2,-.16,-.1,-.06,-.01],[-1,-.6,-.45,-.3,-.22,-.17,-.12,-.08,-.05,-.03,-.02,-.01,0,0],ZERO,SPIKE_POS,SPIKE_NEG],
[[1,.95,.88,.75,.65,.58,.48,.42,.35,.3,.27,.21,.14,.05],[1,.8,.68,.52,.43,.37,.29,.23,.16,.11,.07,.04,.02,.01],[1,.5,.3,.16,.1,.07,.04,.02,.01,0,0,0,0,0],[-1,-.93,-.87,-.77,-.7,-.64,-.55,-.48,-.38,-.3,-.23,-.15,-.09,-.02],[-1,-.75,-.6,-.45,-.37,-.3,-.22,-.17,-.1,-.06,-.04,-.02,-.01,0],ZERO,SPIKE_POS,SPIKE_NEG],
[[1,.9,.82,.68,.58,.5,.4,.33,.25,.2,.17,.12,.07,.02],[1,.8,.67,.5,.42,.36,.3,.26,.2,.17,.14,.09,.05,.01],[1,.55,.38,.22,.15,.1,.06,.04,.02,.01,0,0,0,0],[-1,-.92,-.85,-.72,-.62,-.55,-.45,-.38,-.3,-.24,-.18,-.11,-.07,-.02],[-1,-.7,-.55,-.4,-.33,-.28,-.22,-.18,-.13,-.1,-.08,-.05,-.03,-.01],[-.7,-.4,-.25,-.15,-.1,-.07,-.05,-.03,-.02,-.01,0,0,0,0],ZERO,SPIKE_POS,SPIKE_NEG],
[[1,.98,.95,.9,.85,.8,.7,.6,.45,.37,.3,.23,.16,.06],[1,.95,.9,.82,.75,.68,.58,.5,.4,.33,.28,.22,.16,.07],[1,.85,.75,.6,.5,.44,.36,.3,.23,.18,.14,.1,.06,.02],[-1,-.9,-.82,-.7,-.62,-.56,-.48,-.42,-.33,-.26,-.2,-.13,-.08,-.02],[-1,-.7,-.55,-.4,-.32,-.27,-.2,-.15,-.1,-.07,-.05,-.03,-.02,0],ZERO,SPIKE_POS,SPIKE_NEG],
[[.85,.84,.82,.78,.74,.7,.62,.55,.45,.38,.33,.3,.2,.1],[1,.85,.75,.6,.5,.44,.36,.3,.23,.18,.14,.1,.07,.03],[1,.55,.38,.22,.15,.1,.06,.04,.02,.01,0,0,0,0],[-1,-.97,-.93,-.86,-.8,-.75,-.66,-.58,-.47,-.38,-.3,-.2,-.12,-.03],[-1,-.85,-.75,-.6,-.52,-.46,-.38,-.33,-.26,-.2,-.16,-.1,-.06,-.02],[-1,-.65,-.5,-.35,-.27,-.22,-.16,-.12,-.08,-.05,-.03,-.02,-.01,0],ZERO,SPIKE_POS,SPIKE_NEG],
[[1,.93,.85,.72,.62,.55,.45,.38,.28,.2,.12,.06,.03,.01],[1,.6,.4,.25,.18,.13,.08,.05,.03,.02,.01,0,0,0],[-1,-.85,-.75,-.6,-.52,-.45,-.38,-.33,-.27,-.22,-.17,-.11,-.06,-.02],[-1,-.7,-.55,-.4,-.32,-.27,-.2,-.16,-.12,-.09,-.06,-.04,-.02,0],ZERO,SPIKE_POS,SPIKE_NEG],
[[1,.95,.9,.8,.7,.62,.5,.42,.3,.22,.16,.1,.05,.01],[1,.8,.65,.5,.4,.34,.26,.2,.13,.09,.06,.03,.02,0],[1,.5,.33,.2,.14,.1,.06,.04,.02,.01,0,0,0,0],[-1,-.9,-.82,-.7,-.6,-.54,-.46,-.4,-.33,-.28,-.24,-.18,-.1,-.02],[-1,-.85,-.75,-.6,-.52,-.46,-.4,-.35,-.3,-.26,-.22,-.16,-.09,-.02],[-1,-.6,-.45,-.3,-.23,-.18,-.12,-.09,-.06,-.04,-.02,-.01,0,0],ZERO,SPIKE_POS,SPIKE_NEG],
[[1,.95,.9,.8,.7,.62,.5,.42,.32,.27,.25,.2,.13,.05],[1,.9,.8,.65,.55,.48,.38,.31,.23,.18,.15,.12,.08,.03],[1,.6,.42,.27,.2,.15,.1,.07,.04,.03,.02,.01,0,0],[-1,-.9,-.8,-.66,-.57,-.5,-.42,-.36,-.28,-.22,-.17,-.11,-.06,-.01],[-1,-.7,-.55,-.4,-.32,-.27,-.2,-.15,-.1,-.07,-.05,-.03,-.02,0],ZERO,SPIKE_POS,SPIKE_NEG],
[[1,.85,.72,.55,.45,.38,.3,.25,.2,.17,.14,.08,.04,.01],[1,.7,.55,.4,.32,.28,.24,.22,.2,.15,.1,.06,.03,.01],[1,.5,.33,.2,.14,.1,.06,.04,.02,.01,0,0,0,0],[-1,-.85,-.75,-.6,-.5,-.44,-.36,-.3,-.22,-.17,-.12,-.07,-.03,-.01],[-1,-.6,-.45,-.3,-.22,-.17,-.12,-.09,-.06,-.04,-.02,-.01,0,0],ZERO,SPIKE_POS,SPIKE_NEG],
[[1,.8,.65,.48,.38,.32,.23,.17,.1,.06,.04,.02,.01,0],[1,.55,.38,.22,.15,.11,.07,.05,.03,.02,.01,0,0,0],[-1,-.6,-.45,-.3,-.22,-.17,-.12,-.09,-.05,-.03,-.02,-.01,0,0],ZERO,SPIKE_POS,SPIKE_NEG],
[[1,.97,.93,.85,.77,.7,.58,.48,.35,.28,.25,.22,.17,.07],[1,.9,.8,.65,.55,.48,.38,.32,.25,.22,.2,.15,.1,.04],[1,.75,.6,.45,.37,.31,.24,.19,.13,.09,.06,.03,.02,.01],[1,.5,.33,.2,.14,.1,.06,.04,.02,.01,0,0,0,0],[-1,-.9,-.8,-.65,-.55,-.48,-.38,-.32,-.24,-.18,-.14,-.09,-.05,-.01],[-1,-.7,-.55,-.4,-.32,-.27,-.2,-.15,-.1,-.07,-.05,-.03,-.01,0],ZERO,SPIKE_POS,SPIKE_NEG],
[[1,.85,.72,.55,.45,.38,.28,.22,.14,.09,.06,.03,.01,0],[1,.55,.38,.22,.15,.11,.07,.05,.03,.02,.01,0,0,0],[-1,-.9,-.8,-.66,-.56,-.5,-.4,-.33,-.24,-.17,-.12,-.06,-.03,-.01],[-1,-.75,-.6,-.45,-.37,-.31,-.24,-.19,-.13,-.09,-.06,-.03,-.01,0],[-.8,-.45,-.3,-.18,-.12,-.09,-.06,-.04,-.02,-.01,0,0,0,0],ZERO,SPIKE_POS,SPIKE_NEG],
[[1,.93,.85,.72,.62,.55,.45,.38,.28,.2,.14,.08,.04,.01],[1,.7,.55,.38,.3,.25,.18,.14,.09,.06,.04,.02,.01,0],ZERO,SPIKE_POS,SPIKE_NEG],
[[1,.75,.6,.42,.32,.27,.2,.15,.1,.07,.04,.02,.01,0],[-1,-.9,-.8,-.66,-.56,-.49,-.4,-.34,-.26,-.2,-.14,-.08,-.04,-.01],[-1,-.7,-.55,-.4,-.32,-.27,-.2,-.15,-.1,-.07,-.05,-.03,-.02,-.01],[-.8,-.45,-.3,-.18,-.12,-.09,-.06,-.04,-.02,-.01,0,0,0,0],ZERO,SPIKE_POS,SPIKE_NEG],
[[1,.99,.98,.96,.93,.85,.62,.5,.34,.2,.12,.06,.03,0],[1,.75,.6,.4,.3,.25,.18,.15,.12,.1,.08,.05,.02,.01],[-1,-.97,-.93,-.85,-.78,-.73,-.65,-.58,-.46,-.36,-.28,-.15,-.07,-.01],[-1,-.85,-.75,-.6,-.5,-.44,-.36,-.3,-.22,-.16,-.12,-.07,-.04,-.01],[-1,-.5,-.33,-.2,-.14,-.1,-.07,-.05,-.03,-.02,-.01,0,0,0],ZERO,SPIKE_POS,SPIKE_NEG],
[[1,.9,.82,.68,.58,.5,.4,.33,.24,.17,.12,.07,.03,0],[1,.55,.38,.22,.15,.11,.07,.05,.03,.02,.01,0,0,0],[-1,-.8,-.65,-.5,-.47,-.45,-.44,-.44,-.46,-.48,-.5,-.43,-.3,-.05],[-1,-.6,-.45,-.38,-.34,-.3,-.25,-.2,-.13,-.08,-.05,-.03,-.01,0],[-.9,-.5,-.33,-.2,-.14,-.1,-.06,-.04,-.02,-.01,0,0,0,0],ZERO,SPIKE_POS,SPIKE_NEG],
[[1,.35,.15,.06,.03,.02,.01,0,0,0,0,0,0,0],[-1,-.85,-.7,-.6,-.53,-.48,-.38,-.32,-.24,-.18,-.13,-.07,-.04,-.01],ZERO,SPIKE_POS,SPIKE_NEG],
[[1,.82,.7,.55,.47,.42,.33,.28,.22,.18,.16,.14,.12,.05],[1,.78,.65,.5,.42,.37,.3,.25,.18,.14,.11,.08,.06,.03],[1,.6,.45,.3,.24,.2,.15,.12,.09,.07,.05,.03,.02,.01],ZERO,SPIKE_POS,SPIKE_NEG],
[[-1,-.85,-.75,-.6,-.5,-.43,-.35,-.28,-.2,-.13,-.08,-.04,-.02,0],ZERO,SPIKE_POS,SPIKE_NEG],
[[1,.88,.78,.6,.5,.42,.3,.2,.1,.05,.03,.01,0,0],ZERO,SPIKE_POS,SPIKE_NEG]
];

// ---------- layout ----------
const svg = d3.select("#chart");
const COLS = 6;
const axLeft0 = 58, colStep = 178.4, axW = 124.4;
const axTop0 = 53.3, rowStep = 172.2, axH = 113.4;
const ORANGE = "#ffa500";
const SANS = "'Liberation Sans', Arial, sans-serif";
const SERIF = "'DejaVu Serif', 'Liberation Serif', serif";

svg.append("text").attr("x", 545.5).attr("y", 22.5).attr("text-anchor", "middle")
  .style("font-family", SANS).style("font-size", "19.5px").text(chartTitle);

const defs = svg.append("defs");

layerNames.forEach((name, i) => {
  const r = Math.floor(i / COLS), c = i % COLS;
  const left = axLeft0 + c * colStep, top = axTop0 + r * rowStep;
  const x = d3.scaleLinear().domain([0, 2040]).range([left, left + axW]);
  const y = d3.scaleLinear().domain([-1.1, 1.1]).range([top + axH, top]);

  defs.append("clipPath").attr("id", "clip" + i).append("rect")
    .attr("x", left).attr("y", top).attr("width", axW).attr("height", axH);
  const g = svg.append("g").attr("clip-path", `url(#clip${i})`);

  // initialization filters: oscillating traces between the envelope samples
  const zig = d3.line().x(d => x(d[0])).y(d => y(d[1]));
  [0, 1].forEach(par => {
    const pts = T_BLACK.map((t, k) => [t, (k % 2 === par) ? blackUpper[i][k] : blackLower[i][k]]);
    g.append("path").datum(pts).attr("d", zig).attr("fill", "none")
      .attr("stroke", "#000").attr("stroke-opacity", 0.5).attr("stroke-width", 1.5).attr("stroke-linejoin", "round");
  });

  const core = d3.area().x((d, k) => x(T_CORE[k])).y0((d, k) => y(coreLower[i][k])).y1(d => y(d)).curve(d3.curveMonotoneX);
  g.append("path").datum(coreUpper[i]).attr("d", core).attr("fill", "#000").attr("fill-opacity", 0.9);

  if (i === 0) {
    const mass = d3.area().x((d, k) => x(T_BLACK[k])).y0((d, k) => y(orangeMassLower0[k])).y1(d => y(d)).curve(d3.curveLinear);
    g.append("path").datum(orangeMassUpper0).attr("d", mass).attr("fill", ORANGE).attr("fill-opacity", 0.95);
  }

  const line = d3.line().x((d, k) => x(T_ORANGE[k])).y(d => y(d)).curve(d3.curveMonotoneX);
  orangeCurves[i].forEach(cv => {
    g.append("path").datum(cv).attr("d", line).attr("fill", "none")
      .attr("stroke", ORANGE).attr("stroke-opacity", cv === ZERO ? 0.95 : 0.82)
      .attr("stroke-width", cv === ZERO ? 2.6 : 1.9).attr("stroke-linejoin", "round");
  });

  // spines
  svg.append("rect").attr("x", left).attr("y", top).attr("width", axW).attr("height", axH)
    .attr("fill", "none").attr("stroke", "#000").attr("stroke-width", 1.05);

  const ya = svg.append("g").attr("transform", `translate(${left},0)`)
    .call(d3.axisLeft(y).tickValues(yTicks).tickSize(3.5).tickPadding(3).tickSizeOuter(0).tickFormat(d3.format("d")));
  const xa = svg.append("g").attr("transform", `translate(0,${top + axH})`)
    .call(d3.axisBottom(x).tickValues(xTicks).tickSize(3.5).tickPadding(3.5).tickSizeOuter(0).tickFormat(d3.format("d")));
  [ya, xa].forEach(a => {
    a.select(".domain").remove();
    a.selectAll("text").style("font-family", SERIF).style("font-size", "11.5px").attr("fill", "#000");
    a.selectAll("line").attr("stroke", "#000").attr("stroke-width", 0.9);
  });

  svg.append("text").attr("x", left + axW / 2).attr("y", top - 7.5).attr("text-anchor", "middle")
    .style("font-family", SANS).style("font-size", "14.5px").text(name);

  if (c === 0) {
    const yl = svg.append("text").attr("transform", `translate(22,${top + axH / 2}) rotate(-90)`)
      .attr("text-anchor", "middle").style("font-family", SANS).style("font-size", "12.5px");
    yl.append("tspan").text("Normalized Filters ");
    yl.append("tspan").style("font-family", SERIF).style("font-style", "italic").style("font-size", "13px").text("h");
    yl.append("tspan").style("font-family", SERIF).style("font-style", "italic").style("font-size", "9px").attr("dy", 3).text("t");
    yl.append("tspan").style("font-family", SERIF).style("font-size", "13px").attr("dy", -3).text("/\u2016");
    yl.append("tspan").style("font-family", SERIF).style("font-style", "italic").style("font-size", "13px").text("h");
    yl.append("tspan").style("font-family", SERIF).style("font-size", "13px").text("\u2016");
    yl.append("tspan").style("font-family", SERIF).style("font-size", "9px").attr("dy", 3).text("\u221e");
  }
  if (r === 5) {
    svg.append("text").attr("x", left + axW / 2).attr("y", top + axH + 35).attr("text-anchor", "middle")
      .style("font-family", SERIF).style("font-style", "italic").style("font-size", "13px").text("t");
  }
});

// legend (Layer 0)
const lg = svg.append("g");
lg.append("rect").attr("x", 54.3).attr("y", 60.7).attr("width", 121).attr("height", 43.3).attr("rx", 3)
  .attr("fill", "#fff").attr("fill-opacity", 0.8).attr("stroke", "#cccccc").attr("stroke-width", 1);
lg.append("line").attr("x1", 59).attr("x2", 88).attr("y1", 71).attr("y2", 71)
  .attr("stroke", "#000").attr("stroke-opacity", 0.5).attr("stroke-width", 1.6);
lg.append("line").attr("x1", 59).attr("x2", 88).attr("y1", 90.7).attr("y2", 90.7)
  .attr("stroke", ORANGE).attr("stroke-opacity", 0.82).attr("stroke-width", 1.6);
legendLabels.forEach((t, k) => {
  lg.append("text").attr("x", 98).attr("y", 75.5 + k * 19.7)
    .style("font-family", SANS).style("font-size", "12.5px").text(t);
});
</script>
</body></html>
